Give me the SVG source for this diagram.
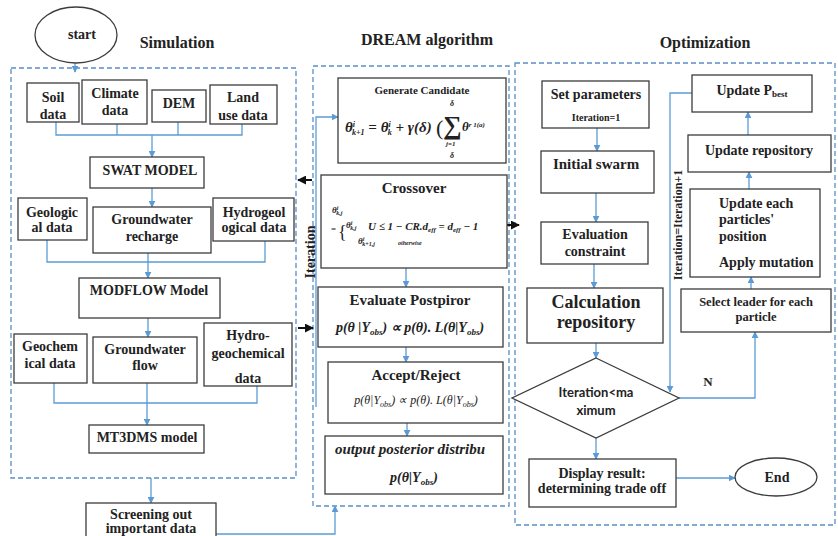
<svg xmlns="http://www.w3.org/2000/svg" width="838" height="536" viewBox="0 0 838 536">
<defs>
<style>
.box{fill:#fff;stroke:#3c3c3c;stroke-width:1.3}
.dash{fill:none;stroke:#5a8fc8;stroke-width:1.3;stroke-dasharray:5 3}
.conn{fill:none;stroke:#5b9bd5;stroke-width:1.3}
.blk{fill:none;stroke:#111;stroke-width:2}
.t{font-family:"Liberation Serif","Times New Roman",serif;font-weight:bold;fill:#222;text-anchor:middle;font-size:14px}
.l{text-anchor:start}
.m{font-family:"Liberation Serif","Times New Roman",serif;font-weight:bold;font-style:italic;fill:#222;font-size:13px}
.c{text-anchor:middle}
.s{font-family:Lato,"Open Sans",sans-serif;font-weight:bold;fill:#222;text-anchor:middle;font-size:13px}
</style>
<marker id="ab" viewBox="0 0 10 10" refX="9" refY="5" markerWidth="7" markerHeight="7" orient="auto" markerUnits="userSpaceOnUse"><path d="M0,0 L10,5 L0,10 z" fill="#5b9bd5"/></marker>
<marker id="ak" viewBox="0 0 10 10" refX="9" refY="5" markerWidth="9" markerHeight="9" orient="auto" markerUnits="userSpaceOnUse"><path d="M0,0 L10,5 L0,10 z" fill="#111"/></marker>
</defs>
<rect width="838" height="536" fill="#fff"/>

<!-- titles -->
<text class="t" x="177" y="48" style="font-size:16px">Simulation</text>
<text class="t" x="427" y="45" style="font-size:16px">DREAM algorithm</text>
<text class="t" x="705" y="48" style="font-size:16px">Optimization</text>

<!-- dashed panels -->
<rect class="dash" x="11" y="68" width="285" height="410"/>
<rect class="dash" x="313" y="66" width="196" height="440"/>
<rect class="dash" x="515" y="63" width="320" height="462"/>

<!-- connectors -->
<g id="connectors">
<line class="conn" x1="75" y1="63" x2="75" y2="72" marker-end="url(#ab)"/>
<polyline class="conn" points="56,122 56,135 242,135 242,124"/>
<line class="conn" x1="117" y1="124" x2="117" y2="135"/>
<line class="conn" x1="178" y1="122" x2="178" y2="135"/>
<line class="conn" x1="152" y1="135" x2="152" y2="157" marker-end="url(#ab)"/>
<line class="conn" x1="152" y1="188" x2="152" y2="207" marker-end="url(#ab)"/>
<polyline class="conn" points="47,240 47,262 265,262 265,241"/>
<line class="conn" x1="148" y1="253" x2="148" y2="278" marker-end="url(#ab)"/>
<line class="conn" x1="148" y1="318" x2="148" y2="337" marker-end="url(#ab)"/>
<polyline class="conn" points="54,383 54,403 257,403 257,386"/>
<line class="conn" x1="147" y1="383" x2="147" y2="425" marker-end="url(#ab)"/>
<line class="conn" x1="151" y1="478" x2="151" y2="503" marker-end="url(#ab)"/>
<polyline class="conn" points="216,534 335,534 335,506" marker-end="url(#ab)"/>
<polyline class="conn" points="316,407 316,117 338,117" marker-end="url(#ab)"/>
<line class="conn" x1="406" y1="268" x2="406" y2="287" marker-end="url(#ab)"/>
<line class="conn" x1="406" y1="347" x2="406" y2="362" marker-end="url(#ab)"/>
<line class="conn" x1="407" y1="423" x2="407" y2="436" marker-end="url(#ab)"/>
<line class="blk" x1="312" y1="180" x2="298" y2="180" marker-end="url(#ak)"/>
<line class="blk" x1="298" y1="328" x2="313" y2="328" marker-end="url(#ak)"/>
<line class="blk" x1="506" y1="225" x2="519" y2="225" marker-end="url(#ak)"/>
<line class="conn" x1="597" y1="128" x2="597" y2="151" marker-end="url(#ab)"/>
<line class="conn" x1="596" y1="193" x2="596" y2="222" marker-end="url(#ab)"/>
<line class="conn" x1="594" y1="264" x2="594" y2="288" marker-end="url(#ab)"/>
<line class="conn" x1="596" y1="343" x2="596" y2="358" marker-end="url(#ab)"/>
<line class="conn" x1="596" y1="438" x2="596" y2="459" marker-end="url(#ab)"/>
<line class="conn" x1="676" y1="478" x2="735" y2="478" marker-end="url(#ab)"/>
<polyline class="conn" points="679,398 755,398 755,332" marker-end="url(#ab)"/>
<polyline class="conn" points="692,93 670,93 670,392" marker-end="url(#ab)"/>
<line class="conn" x1="751" y1="289" x2="751" y2="277" marker-end="url(#ab)"/>
<line class="conn" x1="749" y1="189" x2="749" y2="172" marker-end="url(#ab)"/>
<line class="conn" x1="748" y1="135" x2="748" y2="112" marker-end="url(#ab)"/>
<text class="t" x="310" y="252" transform="rotate(-90 310 252)" dy="5" style="font-size:14px">Iteration</text>
<text class="t" x="678" y="225" transform="rotate(-90 678 225)" dy="4" style="font-size:12px">Iteration=Iteration+1</text>
<text class="t" x="708" y="386" style="font-size:13px">N</text>
</g>

<!-- Simulation nodes -->
<g id="start"><ellipse class="box" cx="76" cy="35" rx="41" ry="28"/><text class="t" x="82" y="39">start</text></g>
<g id="soil"><rect class="box" x="27" y="83" width="52" height="39"/><text class="t" x="53" y="102">Soil</text><text class="t" x="53" y="119">data</text></g>
<g id="climate"><rect class="box" x="82" y="80" width="65" height="44"/><text class="t" x="115" y="98">Climate</text><text class="t" x="115" y="115">data</text></g>
<g id="dem"><rect class="box" x="152" y="90" width="54" height="32"/><text class="t" x="179" y="108">DEM</text></g>
<g id="landuse"><rect class="box" x="210" y="85" width="67" height="39"/><text class="t" x="243" y="102">Land</text><text class="t" x="243" y="120">use data</text></g>
<g id="swat"><rect class="box" x="90" y="157" width="114" height="31"/><text class="t" x="150" y="175">SWAT MODEL</text></g>
<g id="geological"><rect class="box" x="18" y="198" width="69" height="42"/><text class="t" x="52" y="217">Geologic</text><text class="t" x="52" y="232">al data</text></g>
<g id="recharge"><rect class="box" x="93" y="207" width="118" height="46"/><text class="t" x="152" y="224">Groundwater</text><text class="t" x="152" y="241">recharge</text></g>
<g id="hydrogeological"><rect class="box" x="213" y="198" width="81" height="43"/><text class="t" x="254" y="217">Hydrogeol</text><text class="t" x="254" y="232">ogical data</text></g>
<g id="modflow"><rect class="box" x="79" y="278" width="141" height="40"/><text class="t" x="149" y="295">MODFLOW Model</text></g>
<g id="geochemical"><rect class="box" x="14" y="334" width="73" height="49"/><text class="t" x="50" y="351">Geochem</text><text class="t" x="50" y="368">ical data</text></g>
<g id="gwflow"><rect class="box" x="93" y="337" width="104" height="46"/><text class="t" x="145" y="354">Groundwater</text><text class="t" x="145" y="370">flow</text></g>
<g id="hydrogeochemical"><rect class="box" x="204" y="323" width="88" height="63"/><text class="t" x="248" y="340">Hydro-</text><text class="t" x="248" y="358">geochemical</text><text class="t" x="248" y="383">data</text></g>
<g id="mt3dms"><rect class="box" x="89" y="425" width="115" height="28"/><text class="t" x="147" y="442">MT3DMS model</text></g>
<g id="screening"><rect class="box" x="86" y="503" width="130" height="40"/><text class="t" x="151" y="519">Screening out</text><text class="t" x="151" y="533">important data</text></g>

<!-- DREAM nodes -->
<g id="generate"><rect class="box" x="338" y="78" width="168" height="85"/>
<text class="t" x="422" y="94" style="font-size:11px">Generate Candidate</text>
<text class="m" x="345" y="132" style="font-size:15px">θ<tspan font-size="8" dy="-5">i</tspan><tspan font-size="8" dx="-3" dy="8">k+1</tspan><tspan dy="-3"> = θ</tspan><tspan font-size="8" dy="-5">i</tspan><tspan font-size="8" dx="-3" dy="8">k</tspan><tspan dy="-3"> + γ(δ)</tspan></text>
<text class="m" x="436" y="135" style="font-size:22px;font-style:normal;font-weight:normal">(</text>
<text class="m" x="443" y="134" style="font-size:26px;font-style:normal">∑</text>
<text class="m" x="450" y="106" style="font-size:8px">δ</text>
<text class="m" x="446" y="146" style="font-size:7px">j=1</text>
<text class="m" x="450" y="158" style="font-size:8px">δ</text>
<text class="m" x="462" y="131">θ<tspan font-size="7" dy="-4">r 1(a)</tspan></text>
</g>
<g id="crossover"><rect class="box" x="321" y="175" width="186" height="93"/>
<text class="t" x="414" y="193" style="font-size:15px">Crossover</text>
<text class="m" x="332" y="213" style="font-size:9px">θ<tspan font-size="6" dy="-3">i</tspan><tspan font-size="6" dx="-2" dy="5">k,j</tspan></text>
<text class="m" x="331" y="232" style="font-size:9px;font-style:normal">=</text>
<text class="m" x="338" y="238" style="font-size:18px;font-style:normal;font-weight:normal">{</text>
<text class="m" x="346" y="228" style="font-size:9px">θ<tspan font-size="6" dy="-3">i</tspan><tspan font-size="6" dx="-2" dy="5">k,j</tspan></text>
<text class="m" x="368" y="230" style="font-size:11px">U ≤ 1 − CR.d<tspan font-size="7" dy="2">eff</tspan><tspan dy="-2"> = d</tspan><tspan font-size="7" dy="2">eff</tspan><tspan dy="-2"> − 1</tspan></text>
<text class="m" x="358" y="244" style="font-size:9px">θ<tspan font-size="6" dy="-3">i</tspan><tspan font-size="6" dx="-2" dy="5">k+1,j</tspan></text>
<text class="m" x="398" y="245" style="font-size:6px">otherwise</text>
</g>
<g id="postpiror"><rect class="box" x="318" y="287" width="185" height="60"/>
<text class="t" x="410" y="305" style="font-size:15px">Evaluate Postpiror</text>
<text class="m c" x="410" y="332" style="font-size:14px">p(θ |Y<tspan font-size="9" dy="3">obs</tspan><tspan dy="-3">) ∝ p(θ). L(θ|Y</tspan><tspan font-size="9" dy="3">obs</tspan><tspan dy="-3">)</tspan></text>
</g>
<g id="accept"><rect class="box" x="328" y="362" width="175" height="61"/>
<text class="t" x="416" y="380" style="font-size:15px">Accept/Reject</text>
<text class="m c" x="416" y="404" style="font-size:12px;font-weight:normal">p(θ|Y<tspan font-size="8" dy="3">obs</tspan><tspan dy="-3">) ∝ p(θ). L(θ|Y</tspan><tspan font-size="8" dy="3">obs</tspan><tspan dy="-3">)</tspan></text>
</g>
<g id="output"><rect class="box" x="325" y="436" width="178" height="58"/>
<text class="m" x="335" y="454" style="font-size:15px">output posterior distribu</text>
<text class="m c" x="414" y="482" style="font-size:14px">p(θ|Y<tspan font-size="9" dy="3">obs</tspan><tspan dy="-3">)</tspan></text>
</g>

<!-- Optimization nodes -->
<g id="setparams"><rect class="box" x="542" y="81" width="107" height="47"/><text class="t" x="596" y="99">Set parameters</text><text class="t" x="596" y="121" style="font-size:10px">Iteration=1</text></g>
<g id="swarm"><rect class="box" x="541" y="151" width="113" height="42"/><text class="t" x="596" y="169" style="font-size:15px">Initial swarm</text></g>
<g id="evalconstraint"><rect class="box" x="541" y="222" width="107" height="42"/><text class="t" x="595" y="239">Evaluation</text><text class="t" x="595" y="256">constraint</text></g>
<g id="calcrepo"><rect class="box" x="527" y="288" width="136" height="55"/><text class="t" x="596" y="308" style="font-size:18px">Calculation</text><text class="t" x="596" y="328" style="font-size:18px">repository</text></g>
<g id="decision"><polygon class="box" points="596,358 679,398 596,438 512,398"/><text class="s" x="596" y="397">Iteration&lt;ma</text><text class="s" x="596" y="415">ximum</text></g>
<g id="display"><rect class="box" x="529" y="459" width="147" height="48"/><text class="t" x="602" y="478">Display result:</text><text class="t" x="602" y="493">determining trade off</text></g>
<g id="end"><ellipse class="box" cx="776" cy="477" rx="41" ry="19"/><text class="t" x="777" y="482">End</text></g>
<g id="pbest"><rect class="box" x="692" y="75" width="120" height="37"/><text class="t" x="752" y="95">Update P<tspan font-size="9" dy="2">best</tspan></text></g>
<g id="updaterepo"><rect class="box" x="688" y="135" width="143" height="37"/><text class="t" x="759" y="155">Update repository</text></g>
<g id="updatepos"><rect class="box" x="690" y="189" width="130" height="88"/>
<text class="t l" x="719" y="208">Update each</text><text class="t l" x="719" y="224">particles'</text><text class="t l" x="719" y="241">position</text><text class="t l" x="719" y="267">Apply mutation</text></g>
<g id="leader"><rect class="box" x="681" y="289" width="150" height="43"/><text class="t" x="756" y="306" style="font-size:12.5px">Select leader for each</text><text class="t" x="756" y="321" style="font-size:12.5px">particle</text></g>
</svg>
